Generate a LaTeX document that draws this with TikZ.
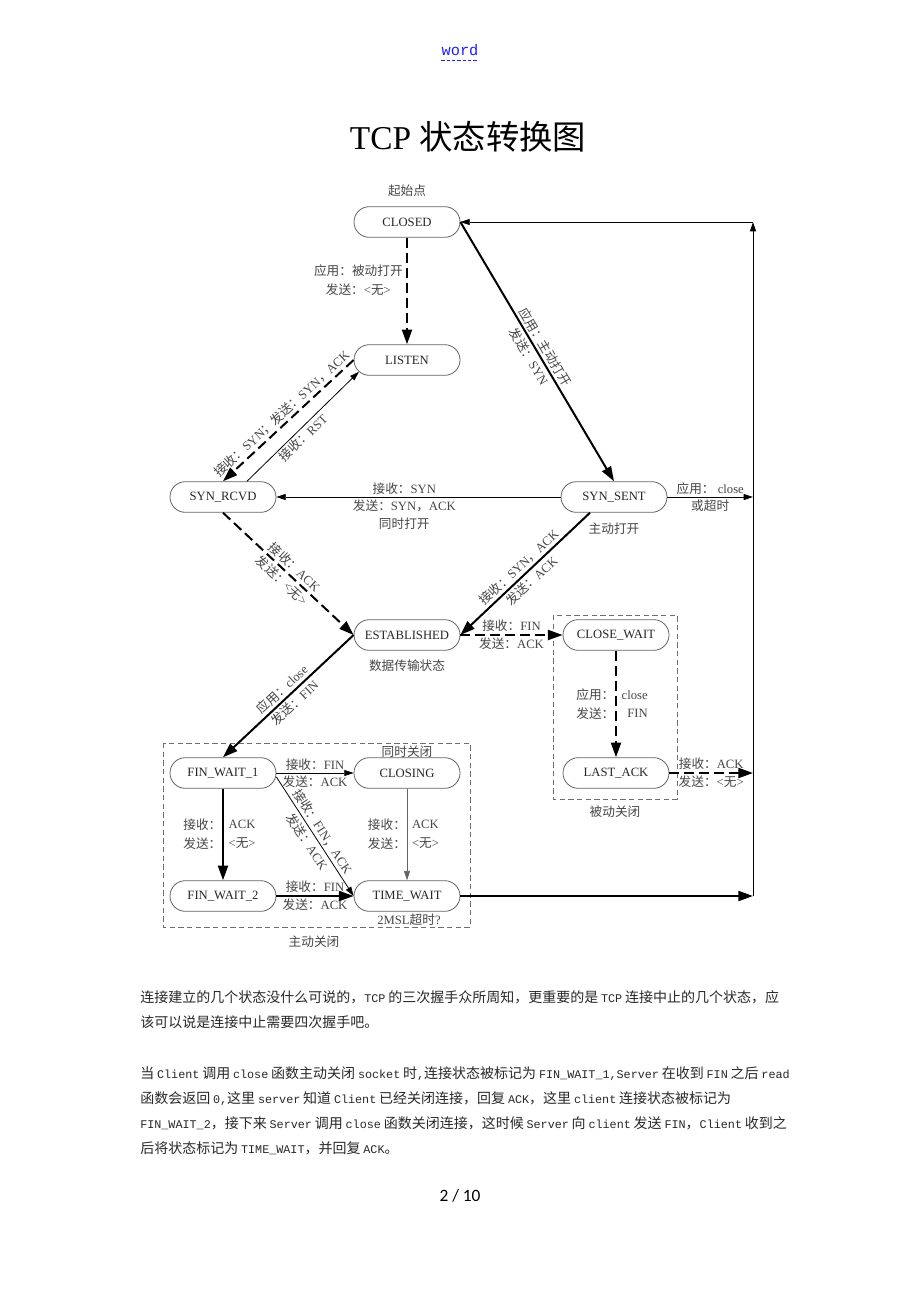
\documentclass[tikz,border=0pt]{standalone}
\usepackage{fontspec}
\setmainfont{Liberation Serif}
\newfontfamily\cjk{Noto Sans CJK SC}
\newfontfamily\bodymono{Liberation Mono}[Scale=0.84,WordSpace=0.4]
\newfontfamily\linkmono{Liberation Mono}
\newfontfamily\pgnofont{Carlito}
\usetikzlibrary{arrows.meta,positioning}

%% Chinese characters switch to \cjk by themselves
\XeTeXinterchartokenstate=1
\newXeTeXintercharclass\hanclass
\newcount\hancode
\def\sethan#1#2{\hancode=#1 \loop\XeTeXcharclass\hancode=\hanclass\advance\hancode by 1 \ifnum\hancode<#2 \repeat}
\sethan{"3000}{"3040}
\sethan{"4E00}{"A000}
\sethan{"FF00}{"FFF0}
\XeTeXinterchartoks 0 \hanclass={\begingroup\cjk}
\XeTeXinterchartoks 4095 \hanclass={\begingroup\cjk}
\XeTeXinterchartoks \hanclass 0={\endgroup}
\XeTeXinterchartoks \hanclass 4095={\endgroup}

\newcommand\dfont{\fontsize{9.5}{14}\selectfont}
\definecolor{nodegray}{RGB}{100,100,100}
\definecolor{lblgray}{RGB}{70,70,70}
\definecolor{boxgray}{RGB}{110,110,110}
\definecolor{linkblue}{RGB}{30,30,255}
\definecolor{bodygray}{RGB}{40,40,40}

\begin{document}
\begin{tikzpicture}[x=0.75pt,y=-0.75pt,
  state/.style={draw=nodegray,line width=0.6pt,rounded corners=11.5pt,minimum width=79.5pt,minimum height=23pt,inner sep=1pt,font=\dfont,text=black!85},
  lbl/.style={font=\dfont,text=lblgray,inner sep=1.5pt,align=center},
  bigarrow/.style={line width=1.5pt,-{Triangle[length=11pt,width=7.5pt]}},
  bigdash/.style={bigarrow,dash pattern=on 7.5pt off 3.75pt},
  smallarrow/.style={line width=0.6pt,-{Triangle[length=7pt,width=4.5pt]}},
  groupbox/.style={draw=boxgray,line width=0.75pt,dash pattern=on 4pt off 2.5pt},
  bodyline/.style={anchor=base west,inner sep=0pt,text=bodygray,font=\bodymono\fontsize{10.5}{14}\selectfont}]
\path[use as bounding box,fill=white] (0,0) rectangle (920,1302);

%% Page head and title
\node[inner sep=0pt,text=linkblue,font=\linkmono\fontsize{11.5}{13}\selectfont] (head) at (460,50) {word};
\draw[linkblue,line width=0.6pt,dash pattern=on 2.5pt off 1.5pt] ([yshift=-3pt]head.south west) -- ([yshift=-3pt]head.south east);
\node[font=\fontsize{25}{29}\selectfont] (title) at (468,137) {TCP 状态转换图};

%% States
\node[state] (closed) at (407,222) {CLOSED};
\node[state] (listen) at (407,360) {LISTEN};
\node[state] (synrcvd) at (223,497) {SYN\_RCVD};
\node[state] (synsent) at (614,497) {SYN\_SENT};
\node[state] (estab) at (407,635) {ESTABLISHED};
\node[state] (closewait) at (616,635) {CLOSE\_WAIT};
\node[state] (lastack) at (616,773) {LAST\_ACK};
\node[state] (finwait1) at (223,773) {FIN\_WAIT\_1};
\node[state] (closing) at (407,773) {CLOSING};
\node[state] (finwait2) at (223,896) {FIN\_WAIT\_2};
\node[state] (timewait) at (407,896) {TIME\_WAIT};

%% Notes
\node[lbl] (start) at (407,191) {起始点};
\node[lbl] (activeopen) at (614,529) {主动打开};
\node[lbl] (datastate) at (407,666) {数据传输状态};
\node[lbl] (simclose) at (407,752) {同时关闭};
\node[lbl] (timeout) at (409,920) {2MSL超时?};
\node[lbl] (activeclose) at (314,942) {主动关闭};
\node[lbl] (passiveclose) at (615,812) {被动关闭};

%% Groups
\draw[groupbox] (163,743) rectangle (470,927);
\draw[groupbox] (553,615) rectangle (677,799);

%% Return line on the right
\coordinate (rtop) at (753,222);
\coordinate (rsent) at (753,497);
\coordinate (rlast) at (753,773);
\coordinate (rbot) at (753,896);
\draw[smallarrow] (rbot) -- (rtop);
\draw[smallarrow] (rtop) -- (closed.east);

%% Opening
\draw[bigdash] (closed) -- (listen) node[lbl,pos=0.4,left=1pt] {应用：被动打开\\发送：<无>};
\draw[bigarrow] (closed.east) -- (synsent.north) node[lbl,midway,sloped] {应用：主动打开\\发送：SYN};
\draw[bigdash] (listen.west) -- (synrcvd.north) node[lbl,midway,sloped,above] {接收：SYN；发送：SYN，ACK};
\draw[smallarrow] ([xshift=18pt]synrcvd.north) -- ([xshift=4pt,yshift=3pt]listen.south west) node[lbl,pos=0.45,sloped,below] {接收：RST};
\draw[smallarrow] (synsent) -- (synrcvd) node[lbl,pos=0.55,above] {接收：SYN} node[lbl,pos=0.55,below] {发送：SYN，ACK\\同时打开};
\draw[smallarrow] (synsent) -- (rsent) node[lbl,midway,above] {应用： close} node[lbl,midway,below] {或超时};

%% Reaching ESTABLISHED
\draw[bigdash] (synrcvd.south) -- (estab.west) node[lbl,midway,sloped] {接收：ACK\\发送：<无>};
\draw[bigarrow] ([xshift=-18pt]synsent.south) -- (estab.east) node[lbl,midway,sloped] {接收：SYN，ACK\\发送：ACK};

%% Passive close
\draw[bigdash] (estab) -- (closewait) node[lbl,midway,above] {接收：FIN} node[lbl,midway,below] {发送：ACK};
\draw[bigdash] (closewait) -- (lastack) node[lbl,midway,left=-1pt] {应用：\\发送：} node[lbl,midway,right=2pt,align=right] {close\\FIN};
\draw[bigdash] (lastack) -- (rlast) node[lbl,midway,above] {接收：ACK} node[lbl,midway,below] {发送：<无>};

%% Active close
\draw[bigarrow] (estab.west) -- (finwait1.north) node[lbl,midway,sloped] {应用：close\\发送：FIN};
\draw[smallarrow] (finwait1) -- (closing) node[lbl,midway,above] {接收：FIN} node[lbl,midway,below] {发送：ACK};
\draw[smallarrow] ([yshift=-3pt]finwait1.east) -- (timewait.west) node[lbl,midway,sloped] {接收：FIN，ACK\\发送：ACK};
\draw[bigarrow] (finwait1) -- (finwait2) node[lbl,midway,left=-1pt] {接收：\\发送：} node[lbl,midway,right=2pt,align=left] {ACK\\<无>};
\draw[smallarrow,color=nodegray] (closing) -- (timewait) node[lbl,midway,left=-1pt] {接收：\\发送：} node[lbl,midway,right=2pt,align=left] {ACK\\<无>};
\draw[bigarrow] (finwait2) -- (timewait) node[lbl,midway,above] {接收：FIN} node[lbl,midway,below] {发送：ACK};
\draw[bigarrow] (timewait) -- (rbot);

%% Text under the diagram
\node[bodyline] (p1) at (140,1002) {连接建立的几个状态没什么可说的，TCP 的三次握手众所周知，更重要的是 TCP 连接中止的几个状态，应};
\node[bodyline] (p2) at (140,1027) {该可以说是连接中止需要四次握手吧。};
\node[bodyline] (p3) at (140,1078) {当 Client 调用 close 函数主动关闭 socket 时,连接状态被标记为 FIN\_WAIT\_1,Server 在收到 FIN 之后 read};
\node[bodyline] (p4) at (140,1103) {函数会返回 0,这里 server 知道 Client 已经关闭连接，回复 ACK，这里 client 连接状态被标记为};
\node[bodyline] (p5) at (140,1128) {FIN\_WAIT\_2，接下来 Server 调用 close 函数关闭连接，这时候 Server 向 client 发送 FIN，Client 收到之};
\node[bodyline] (p6) at (140,1153) {后将状态标记为 TIME\_WAIT，并回复 ACK。};
\node[font=\pgnofont\fontsize{13}{15}\selectfont] (pageno) at (460,1196) {2 / 10};
\end{tikzpicture}
\end{document}
